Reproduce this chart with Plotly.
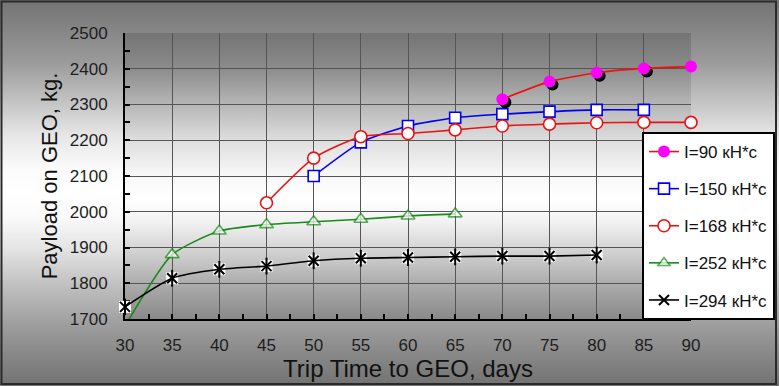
import base64
import plotly.graph_objects as go

# ---- data ----
days_90 = [70, 75, 80, 85, 90]
pay_90 = [2315, 2364, 2389, 2401, 2406]

days_150 = [50, 55, 60, 65, 70, 75, 80, 85]
pay_150 = [2100, 2194, 2240, 2263, 2273, 2280, 2285, 2285]

days_168 = [45, 50, 55, 60, 65, 70, 75, 80, 85, 90]
pay_168 = [2025, 2150, 2210, 2219, 2229, 2240, 2245, 2249, 2250, 2250]

days_252 = [30, 35, 40, 45, 50, 55, 60, 65]
pay_252 = [1680, 1880, 1946, 1964, 1972, 1979, 1988, 1994]

days_294 = [30, 35, 40, 45, 50, 55, 60, 65, 70, 75, 80]
pay_294 = [1734, 1814, 1839, 1848, 1863, 1870, 1872, 1874, 1876, 1876, 1879]

names = ["I=90 кН*с", "I=150 кН*с", "I=168 кН*с", "I=252 кН*с", "I=294 кН*с"]
x_ticks = [30, 35, 40, 45, 50, 55, 60, 65, 70, 75, 80, 85, 90]
y_ticks = [1700, 1800, 1900, 2000, 2100, 2200, 2300, 2400, 2500]

FONT = "Liberation Sans, Arial, sans-serif"
W, H = 779, 386
ML, MR, MT, MB = 125, 88, 33, 67
PW, PH = W - ML - MR, H - MT - MB
SMOOTH = 0.6


def px_x(p):
    return (p - ML) / PW


def px_y(p):
    return (H - MB - p) / PH


def grad_svg(stops):
    s = "".join(f'<stop offset="{o}" stop-color="{c}"/>' for o, c in stops)
    svg = ('<svg xmlns="http://www.w3.org/2000/svg" width="100" height="100" '
           'preserveAspectRatio="none"><defs><linearGradient id="g" x1="0" y1="0" '
           f'x2="0" y2="1">{s}</linearGradient></defs>'
           '<rect width="100" height="100" fill="url(#g)"/></svg>')
    return "data:image/svg+xml;base64," + base64.b64encode(svg.encode()).decode()


outer_stops = [(0, "#737373"), (0.16, "#9a9a9a"), (0.27, "#c6c6c6"), (0.35, "#e6e6e6"),
               (0.44, "#fcfcfc"), (0.5, "#ffffff"), (0.56, "#fbfbfb"), (0.65, "#e2e2e2"),
               (0.75, "#bcbcbc"), (0.86, "#989898"), (1, "#727272")]
plot_stops = [(0, "#747474"), (0.125, "#8c8c8c"), (0.25, "#b6b6b6"), (0.375, "#dedede"),
              (0.5, "#f8f8f8"), (0.58, "#ffffff"), (0.66, "#f2f2f2"), (0.75, "#d6d6d6"),
              (0.875, "#adadad"), (1, "#898989")]

fig = go.Figure()

# blue I=150 and red I=168
fig.add_trace(go.Scatter(
    x=days_150, y=pay_150, name=names[1], mode="lines+markers", legendrank=2, legendgroup="g150",
    line=dict(color="#0000ee", width=1.6, shape="spline", smoothing=SMOOTH),
    marker=dict(symbol="square", size=11, color="white", line=dict(color="#0000ee", width=1.6)),
    cliponaxis=False))
fig.add_trace(go.Scatter(
    x=days_168, y=pay_168, name=names[2], mode="lines+markers", legendrank=3, legendgroup="g168",
    line=dict(color="#ee1111", width=1.6, shape="spline", smoothing=SMOOTH),
    marker=dict(symbol="circle", size=12, color="white", line=dict(color="#ee1111", width=1.6)),
    cliponaxis=False))

# green I=252 (first point lies below the axis, only its line shows)
fig.add_trace(go.Scatter(
    x=days_252, y=pay_252, name=names[3], mode="lines+markers", legendrank=4, legendgroup="g252",
    line=dict(color="#1a8a1a", width=1.6, shape="spline", smoothing=SMOOTH),
    marker=dict(symbol="triangle-up", size=[0 if v < y_ticks[0] else 12 for v in pay_252],
                color="white", line=dict(color="#1a8a1a", width=1.6)),
    cliponaxis=False))

# black I=294 : white box + X + vertical bar
fig.add_trace(go.Scatter(
    x=days_294, y=pay_294, mode="markers", showlegend=False, hoverinfo="skip",
    marker=dict(symbol="square", size=12, color="white", line=dict(width=0)),
    cliponaxis=False))
fig.add_trace(go.Scatter(
    x=days_294, y=pay_294, name=names[4], mode="lines+markers", legendrank=5, legendgroup="g294",
    line=dict(color="black", width=1.6, shape="spline", smoothing=SMOOTH),
    marker=dict(symbol="x-thin-open", size=10, color="black", line=dict(color="black", width=2)),
    cliponaxis=False))
fig.add_trace(go.Scatter(
    x=days_294, y=pay_294, mode="markers", showlegend=False, hoverinfo="skip",
    marker=dict(symbol="line-ns-open", size=12, color="black", line=dict(color="black", width=2)),
    cliponaxis=False))

# magenta I=90 with shadow
dx = 3 / (PW / 60)
dy = 3 / (PH / 800)
fig.add_trace(go.Scatter(
    x=[d + dx for d in days_90], y=[p - dy for p in pay_90], mode="markers",
    showlegend=False, hoverinfo="skip",
    marker=dict(symbol="circle", size=12, color="black", line=dict(width=0)),
    cliponaxis=False))
fig.add_trace(go.Scatter(
    x=days_90, y=pay_90, name=names[0], mode="lines+markers", legendrank=1, legendgroup="g90",
    line=dict(color="#ee1111", width=1.6, shape="spline", smoothing=SMOOTH),
    marker=dict(symbol="circle", size=12, color="#ff00ff", line=dict(width=0)),
    cliponaxis=False))

axis_common = dict(
    showline=True, linecolor="black", linewidth=2, mirror=False,
    showgrid=True, gridcolor="#555555", gridwidth=1, zeroline=False,
    ticks="inside", ticklen=5, tickwidth=1.5, tickcolor="black",
    tickfont=dict(family=FONT, size=17, color="#1e1e1e"),
    layer="below traces",
)

fig.update_layout(
    width=W, height=H,
    margin=dict(l=ML, r=MR, t=MT, b=MB, pad=0, autoexpand=False),
    paper_bgcolor="white", plot_bgcolor="rgba(0,0,0,0)",
    font=dict(family=FONT, color="#1e1e1e"),
    xaxis=dict(range=[30, 90], tickvals=x_ticks, ticktext=[str(v) for v in x_ticks],
               ticklabelstandoff=10, automargin=False,
               minor=dict(ticks="inside", dtick=2.5, tick0=30, ticklen=5, tickcolor="black",
                          showgrid=False),
               title=dict(text="Trip Time to GEO, days", font=dict(family=FONT, size=24, color="#111"),
                          standoff=2),
               **axis_common),
    yaxis=dict(range=[1700, 2500], tickvals=y_ticks, ticktext=[str(v) for v in y_ticks],
               ticklabelstandoff=12, automargin=False,
               minor=dict(ticks="inside", dtick=50, tick0=1700, ticklen=5, tickcolor="black",
                          showgrid=False),
               title=dict(text="Payload on GEO, kg.", font=dict(family=FONT, size=22, color="#111"),
                          standoff=6),
               **axis_common),
    legend=dict(x=px_x(775), y=px_y(132), xanchor="right", yanchor="top",
                bgcolor="white", bordercolor="black", borderwidth=2,
                font=dict(family=FONT, size=17, color="#111"),
                traceorder="grouped", tracegroupgap=12, itemwidth=30),
    showlegend=True,
    images=[
        dict(source=grad_svg(outer_stops), xref="paper", yref="paper",
             x=px_x(0), y=px_y(0), sizex=px_x(W) - px_x(0), sizey=px_y(0) - px_y(H),
             xanchor="left", yanchor="top", sizing="stretch", layer="below"),
        dict(source=grad_svg(plot_stops), xref="paper", yref="paper",
             x=0, y=1, sizex=1, sizey=1,
             xanchor="left", yanchor="top", sizing="stretch", layer="below"),
    ],
    shapes=[
        dict(type="rect", xref="paper", yref="paper",
             x0=px_x(1.5), x1=px_x(776), y0=px_y(1.5), y1=px_y(384),
             line=dict(color="#2a2a2a", width=2), fillcolor="rgba(0,0,0,0)", layer="below"),
    ],
)

fig.write_html("out.html", config={"displayModeBar": False},
               post_script="document.body.style.margin='0';document.body.style.overflow='hidden';")
